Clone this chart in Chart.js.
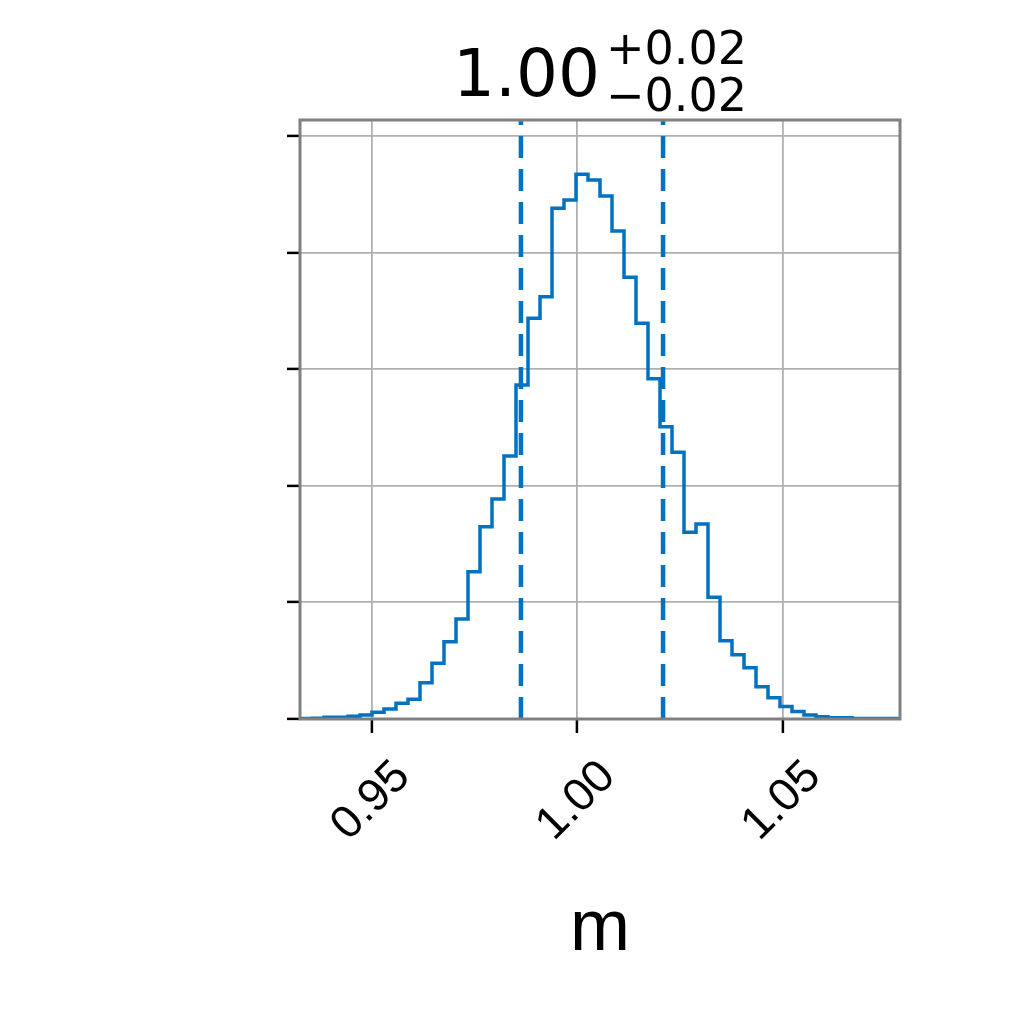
<!DOCTYPE html>
<html>
<head>
<meta charset="utf-8">
<script src="https://cdn.jsdelivr.net/npm/chart.js@4.4.0/dist/chart.umd.min.js"></script>
<style>
  html, body { margin: 0; padding: 0; background: #fff; }
  #wrap { width: 1020px; height: 1020px; }
</style>
</head>
<body>
<div id="wrap"><canvas id="hist" width="1020" height="1020"></canvas></div>
<script>
// posterior of m: 50-bin step histogram over the plotted range
const xMin = 0.9325;
const xMax = 1.0786;
const counts = [
  0.4, 0.7, 1.5, 1.5, 2.3, 3.4, 5.7, 8.6, 13.5, 16.9,
  31.1, 47.8, 66.3, 85.8, 126.3, 164.9, 188.7, 225.6, 286.4, 343.6,
  362.2, 438.0, 445.1, 467.1, 462.3, 448.5, 418.5, 378.8, 339.4, 291.9,
  250.7, 228.7, 160.1, 167.2, 104.4, 67.2, 55.1, 44.0, 27.7, 18.3,
  10.7, 6.4, 3.4, 2.0, 1.1, 1.1, 0.4, 0.4, 0.4, 0.4
];
const quantiles = [0.9863, 1.0209];
const xTicks = [0.95, 1.00, 1.05];
const yTicks = [0, 100, 200, 300, 400, 500];
const yMax = 513.7;
const titleMain = '1.00';
const titlePlus = '+0.02';
const titleMinus = '\u22120.02';
const axisLabel = 'm';

const blue = '#0072c1';

// bin edges -> stepped outline points
const binW = (xMax - xMin) / counts.length;
const histPoints = [{x: xMin, y: 0}];
counts.forEach(function(c, k) {
    histPoints.push({x: xMin + k * binW, y: c});
});
histPoints.push({x: xMax, y: 0});

const quantileSets = quantiles.map(function(q) {
    return {
        data: [{x: q, y: 0}, {x: q, y: yMax}],
        borderColor: blue,
        borderWidth: 4.5,
        borderDash: [22, 11],
        pointRadius: 0,
        fill: false,
        order: 0
    };
});

// gray box around the axes
const framePlugin = {
    id: 'frame',
    afterDatasetsDraw(chart) {
        const {ctx, chartArea: a} = chart;
        ctx.save();
        ctx.strokeStyle = '#808080';
        ctx.lineWidth = 3;
        ctx.strokeRect(a.left, a.top, a.right - a.left, a.bottom - a.top);
        ctx.restore();
    }
};

// "1.00^{+0.02}_{-0.02}" title
const titlePlugin = {
    id: 'mathTitle',
    afterDraw(chart) {
        const {ctx, chartArea: a} = chart;
        ctx.save();
        ctx.fillStyle = '#000';
        ctx.textBaseline = 'alphabetic';
        ctx.textAlign = 'left';
        ctx.font = '66px "DejaVu Sans"';
        const wMain = ctx.measureText(titleMain).width;
        ctx.font = '46px "DejaVu Sans"';
        const wSide = Math.max(ctx.measureText(titlePlus).width, ctx.measureText(titleMinus).width);
        const x0 = (a.left + a.right) / 2 - (wMain + 6 + wSide) / 2;
        ctx.font = '66px "DejaVu Sans"';
        ctx.fillText(titleMain, x0, a.top - 24);
        ctx.font = '46px "DejaVu Sans"';
        ctx.fillText(titlePlus, x0 + wMain + 6, a.top - 56);
        ctx.fillText(titleMinus, x0 + wMain + 6, a.top - 9);
        ctx.restore();
    }
};

const ctx = document.getElementById('hist').getContext('2d');
const chart = new Chart(ctx, {
    type: 'line',
    data: {
        datasets: [
            ...quantileSets,
            {
                data: histPoints,
                borderColor: blue,
                borderWidth: 3.5,
                stepped: true,
                pointRadius: 0,
                fill: false,
                order: 1
            }
        ]
    },
    options: {
        responsive: false,
        animation: false,
        events: [],
        layout: { padding: { left: 287, right: 120, top: 120, bottom: 0 } },
        plugins: {
            legend: { display: false },
            tooltip: { enabled: false },
            title: { display: false }
        },
        scales: {
            x: {
                type: 'linear',
                min: xMin,
                max: xMax,
                afterBuildTicks: function(scale) {
                    scale.ticks = xTicks.map(function(v) { return {value: v}; });
                },
                afterFit: function(scale) { scale.height = 301; },
                ticks: {
                    autoSkip: false,
                    minRotation: 45,
                    maxRotation: 45,
                    labelOffset: 31,
                    padding: 17,
                    color: '#000',
                    font: { family: 'Liberation Sans', size: 46 },
                    callback: function(v) { return Number(v).toFixed(2); }
                },
                grid: {
                    color: '#b0b0b0',
                    lineWidth: 1.8,
                    tickColor: '#000',
                    tickWidth: 2.5,
                    tickLength: 14
                },
                border: { display: false },
                title: {
                    display: true,
                    text: axisLabel,
                    color: '#000',
                    font: { family: 'Liberation Sans', size: 72 },
                    padding: { top: 0, bottom: 47 }
                }
            },
            y: {
                min: 0,
                max: yMax,
                afterBuildTicks: function(scale) {
                    scale.ticks = yTicks.map(function(v) { return {value: v}; });
                },
                afterFit: function(scale) { scale.width = 13; },
                ticks: { display: false },
                grid: {
                    color: '#b0b0b0',
                    lineWidth: 1.8,
                    tickColor: '#000',
                    tickWidth: 2.5,
                    tickLength: 13
                },
                border: { display: false }
            }
        }
    },
    plugins: [framePlugin, titlePlugin]
});
</script>
</body>
</html>
